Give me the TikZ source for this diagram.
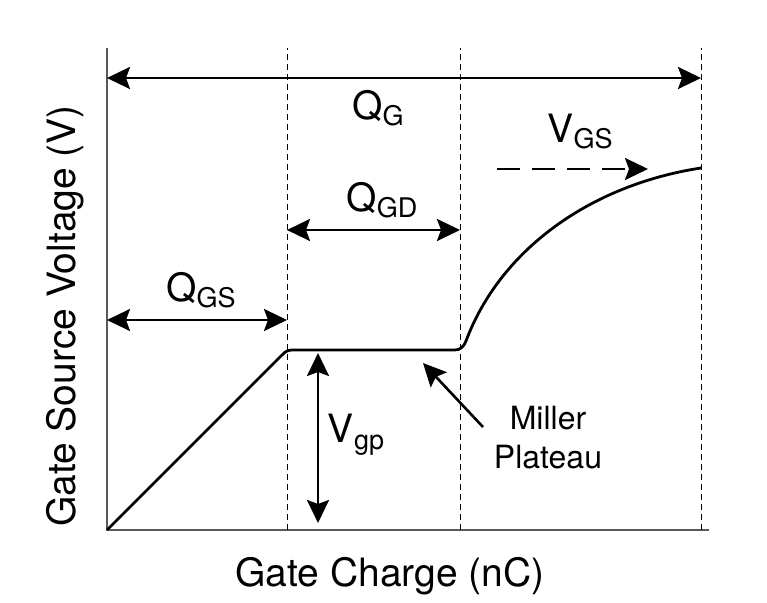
\documentclass[tikz,border=0pt]{standalone}
\usepackage{fontspec}
\setmainfont{TeX Gyre Heros}
\usetikzlibrary{arrows.meta}
\newcommand{\lblsize}{\fontsize{39}{39}\selectfont}
\newcommand{\qlabel}[2]{#1\raisebox{-6pt}{\fontsize{27}{27}\selectfont #2}}

\begin{document}
\begin{tikzpicture}[x=1pt,y=1pt,>={Stealth[length=23pt,width=22pt,inset=4pt]},
    axis/.style={draw=black!65, line width=1.3pt},
    guide/.style={line width=0.9pt, dash pattern=on 6pt off 4pt},
    dim/.style={line width=2.6pt},
    curve/.style={line width=2.8pt, line join=round},
    lab/.style={inner sep=0pt, anchor=base, font=\lblsize}]
      \useasboundingbox (0,0) rectangle (767,602);
          %%  axes and guides %%
      \coordinate (o) at (107,72);
      \coordinate (ytop) at (107,554);
      \coordinate (xend) at (709,72);
      \draw[axis] (ytop) -- (o) -- (xend);
      \foreach \n/\x in {a/287,b/460,c/701}
      { \coordinate (\n0) at (\x,72);  \coordinate (\n1) at (\x,554);
        \draw[guide] (\n0) -- (\n1);}

          %%  charge intervals %%
      \coordinate (qg1) at (107,524);  \coordinate (qg2) at (701,524);
      \coordinate (qgs1) at (107,282); \coordinate (qgs2) at (287,282);
      \coordinate (qgd1) at (287,372); \coordinate (qgd2) at (460,372);
      \draw[dim,<->] (qg1) -- (qg2);
      \draw[dim,<->] (qgs1) -- (qgs2);
      \draw[dim,<->] (qgd1) -- (qgd2);
      \node[lab] (QG) at (378,482) {\qlabel{Q}{G}};
      \node[lab] (QGS) at (201,300) {\qlabel{Q}{GS}};
      \node[lab] (QGD) at (382,390) {\qlabel{Q}{GD}};

          %%  gate voltage curve %%
      \coordinate (cend) at (701,434);
      \draw[curve] (o) -- (282,247) to[out=45,in=180] (292,252) -- (455,252)
            to[out=0,in=-111] (466,261) .. controls (500,352) and (590,417) .. (cend);

      \coordinate (vgs1) at (497,433); \coordinate (vgs2) at (648,433);
      \draw[dim,->,dash pattern=on 23pt off 12pt] (vgs1) -- (vgs2);
      \node[lab] (VGS) at (580,459) {\qlabel{V}{GS}};

      \coordinate (vgp1) at (318,79);  \coordinate (vgp2) at (318,249);
      \draw[dim,<->] (vgp1) -- (vgp2);
      \node[lab] (Vgp) at (356,159) {\qlabel{V}{gp}};

      \coordinate (mtail) at (483,175); \coordinate (mtip) at (423,239);
      \draw[dim,->] (mtail) -- (mtip);
      \node[inner sep=0pt, anchor=base, align=center, font=\fontsize{32}{38}\selectfont]
            (miller) at (548,134) {Miller\\Plateau};

          %%  axis titles %%
      \node[lab] (xlab) at (390,16) {Gate Charge (nC)};
      \node[lab, rotate=90] (ylab) at (75,286) {Gate Source Voltage (V)};
        \end{tikzpicture}
\end{document}
